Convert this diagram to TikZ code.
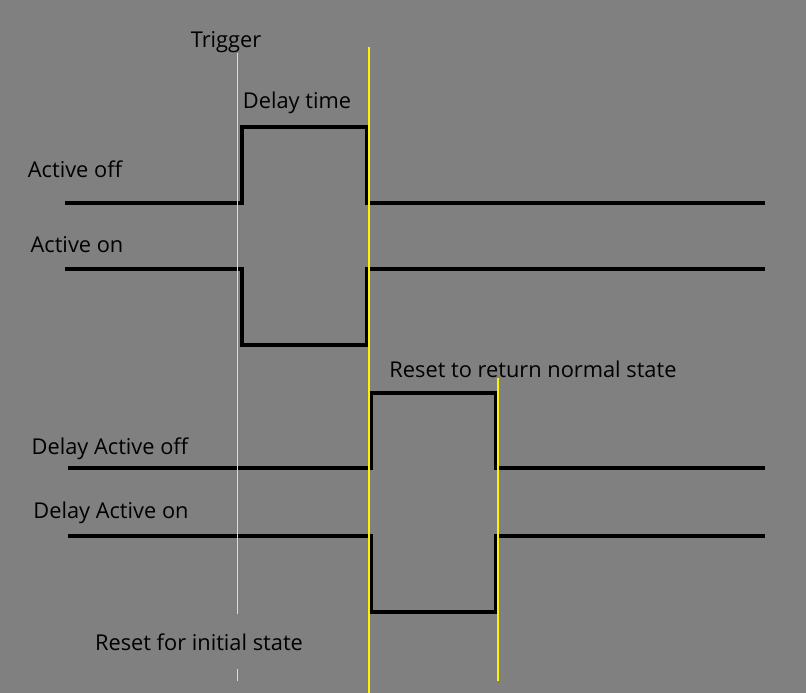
\documentclass[tikz,border=0pt]{standalone}
\usepackage{fontspec}
\setmainfont{Open Sans}
\begin{document}
\begin{tikzpicture}[x=1pt,y=-1pt,
  sig/.style={line width=4.5pt,line join=miter,line cap=butt},
  ymark/.style={yellow,line width=1.3pt},
  lbl/.style={inner sep=0pt,font=\fontsize{21.8}{26}\selectfont,text=black}]
\fill[gray] (0,0) rectangle (806,693);
\useasboundingbox (0,0) rectangle (806,693);
% signals
\draw[sig] (65,203) -- (242,203) -- (242,127) -- (367,127) -- (367,203) -- (765,203);
\draw[sig] (65,269) -- (242,269) -- (242,345) -- (367,345) -- (367,269) -- (765,269);
\draw[sig] (68,468) -- (371,468) -- (371,393) -- (496,393) -- (496,468) -- (765,468);
\draw[sig] (68,536) -- (371,536) -- (371,612) -- (496,612) -- (496,536) -- (765,536);
% labels
\node[lbl] (trig) at (226,42.5) {Trigger};
\node[lbl] (delay) at (297,102.5) {Delay time};
\node[lbl] (aoff) at (75,169.5) {Active off};
\node[lbl] (aon) at (77,244.5) {Active on};
\node[lbl] (reset) at (533,369.5) {Reset to return normal state};
\node[lbl] (daoff) at (110,448.5) {Delay Active off};
\node[lbl] (daon) at (111,512.5) {Delay Active on};
\node[lbl] (init) at (199,642.5) {Reset for initial state};
% markers
\coordinate (t1) at (237.5,53);
\coordinate (t2) at (237.5,614);
\coordinate (t3) at (237.5,669);
\coordinate (t4) at (237.5,681);
\coordinate (m1) at (369,47);
\coordinate (m2) at (369,693);
\coordinate (r1) at (498,378);
\coordinate (r2) at (498,681);
\draw[ymark] (t1) -- (t2);
\draw[ymark] (t3) -- (t4);
\draw[ymark] (m1) -- (m2);
\draw[ymark] (r1) -- (r2);
\end{tikzpicture}
\end{document}
